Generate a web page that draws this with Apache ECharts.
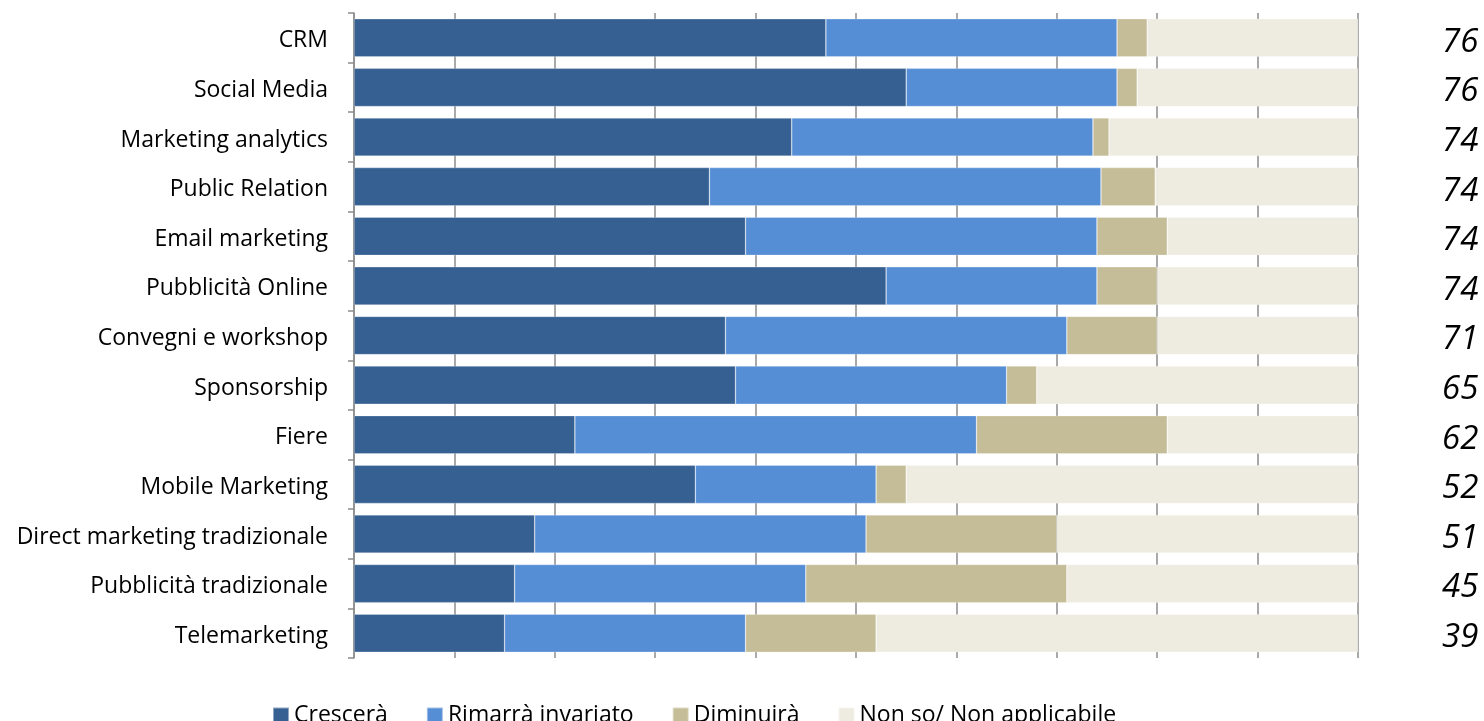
<!DOCTYPE html>
<html>
<head>
<meta charset="utf-8">
<script src="https://cdn.jsdelivr.net/npm/echarts@6/dist/echarts.min.js"></script>
<style>
  html, body { margin: 0; padding: 0; background: #ffffff; }
  #chart { width: 1484px; height: 721px; }
</style>
</head>
<body>
<div id="chart"></div>
<script>
// Channels, top to bottom
const categories = [
  'CRM', 'Social Media', 'Marketing analytics', 'Public Relation',
  'Email marketing', 'Pubblicità Online', 'Convegni e workshop',
  'Sponsorship', 'Fiere', 'Mobile Marketing',
  'Direct marketing tradizionale', 'Pubblicità tradizionale', 'Telemarketing'
];

// Share of answers (%) per channel
const crescera   = [47, 55, 43.6, 35.4, 39, 53, 37, 38, 22, 34, 18, 16, 15];
const invariato  = [29, 21, 30,   39,   35, 21, 34, 27, 40, 18, 33, 29, 24];
const diminuira  = [3,  2,  1.6,  5.4,  7,  6,  9,  3,  19, 3,  19, 26, 13];
const nonSo      = [21, 22, 24.8, 20.2, 19, 20, 20, 32, 19, 45, 30, 29, 48];

const seriesNames = ['Crescerà', 'Rimarrà invariato', 'Diminuirà', 'Non so/ Non applicabile'];
const seriesColors = ['#366092', '#558ED5', '#C4BD97', '#EEECE1'];

const FONT = '"Open Sans", "Noto Sans", sans-serif';
const GRID_GRAY = '#8c8c8c';

const chart = echarts.init(document.getElementById('chart'), null, { renderer: 'canvas' });

// Total of the positive answers (growing + unchanged), shown at the right of each row
const positiveTotal = idx => Math.round(crescera[idx] + invariato[idx]);

const values = [crescera, invariato, diminuira, nonSo];

const series = values.map((arr, i) => ({
  name: seriesNames[i],
  type: 'bar',
  stack: 'total',
  data: arr,
  barCategoryGap: '23%',
  itemStyle: { color: seriesColors[i], borderColor: 'rgba(255,255,255,0.45)', borderWidth: 0.6 },
  emphasis: { disabled: true },
  label: i === 3 ? {
    show: true,
    position: 'right',
    distance: 84,
    formatter: p => '{n|' + positiveTotal(p.dataIndex) + '}',
    rich: {
      n: {
        fontFamily: FONT,
        fontStyle: 'italic',
        fontSize: 33,
        padding: [9, 0, 0, 0],
        color: '#000'
      }
    }
  } : { show: false }
}));

chart.setOption({
  animation: false,
  backgroundColor: '#ffffff',
  grid: { left: 354, right: 126, top: 13, bottom: 63, containLabel: false },
  xAxis: {
    type: 'value',
    min: 0,
    max: 100,
    interval: 10,
    axisLine: { show: false },
    axisTick: { show: false },
    axisLabel: { show: false },
    splitLine: { show: true, lineStyle: { color: GRID_GRAY, width: 1.5 } }
  },
  yAxis: {
    type: 'category',
    data: categories,
    inverse: true,
    axisLine: { show: true, lineStyle: { color: GRID_GRAY, width: 1.5 } },
    axisTick: { show: true, length: 6, lineStyle: { color: GRID_GRAY, width: 1.5 } },
    axisLabel: {
      margin: 26,
      formatter: v => '{c|' + v + '}',
      rich: {
        c: {
          fontFamily: FONT,
          fontSize: 23,
          padding: [6, 0, 0, 0],
          color: '#000'
        }
      }
    }
  },
  legend: {
    data: seriesNames,
    left: 267,
    top: 699,
    icon: 'rect',
    itemWidth: 16,
    itemHeight: 16,
    itemGap: 38,
    textStyle: { fontFamily: FONT, fontSize: 23, color: '#000' },
    selectedMode: false
  },
  series: series
});
</script>
</body>
</html>
